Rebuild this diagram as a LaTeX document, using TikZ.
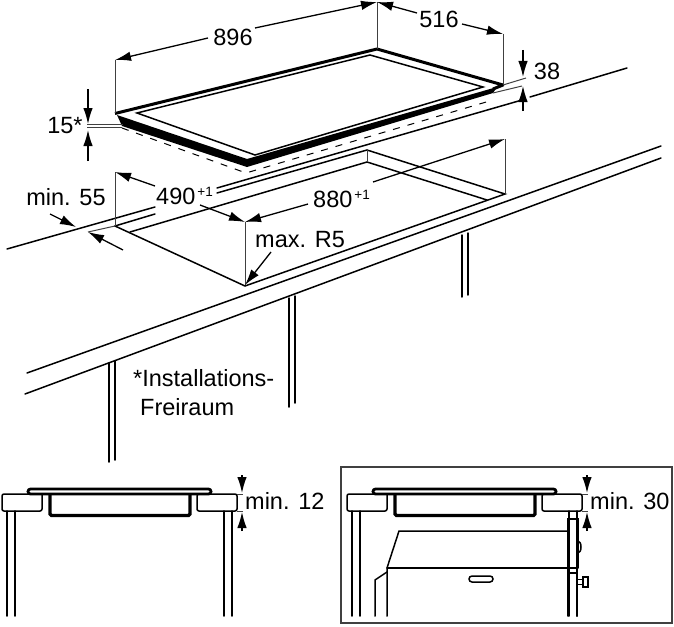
\documentclass[tikz,border=0pt]{standalone}
\usepackage{fontspec}
\setsansfont{Liberation Sans}
\usepackage{tikz}
\usetikzlibrary{arrows.meta}
\tikzset{>={Latex[length=16pt,width=9.5pt]}}
\tikzset{edgeline/.style={line width=1.5pt,line cap=round}}
\tikzset{dimline/.style={line width=1.3pt,->}}
\tikzset{helpline/.style={line width=1pt,black!75}}
\tikzset{heavyline/.style={line width=3pt,line join=round}}
\tikzset{dimtext/.style={inner sep=0pt}}
\newcommand{\plusone}{\hspace{2pt}\raisebox{8pt}{\fontsize{13.5}{14}\selectfont +1}}
\newcommand{\sectionview}[1]{%
	\draw[edgeline,rounded corners=2pt] (#1+42,494) -- (#1+2,494) -- (#1+2,511) -- (#1+42,511) -- (#1+42,494);
	\draw[edgeline,rounded corners=2pt] (#1+197,494) -- (#1+237,494) -- (#1+237,511) -- (#1+197,511) -- cycle;
	\draw[line width=2.8pt,rounded corners=2.5pt] (#1+28,489) rectangle (#1+211,494);
	\draw[line width=3.2pt,rounded corners=1.5pt] (#1+50,495) -- (#1+50,515.5) -- (#1+190,515.5) -- (#1+190,495);
	\draw[edgeline] (#1+7,511) -- (#1+7,616);
	\draw[edgeline] (#1+15,511) -- (#1+15,616);
	\draw[edgeline] (#1+224,511) -- (#1+224,616);
	\draw[edgeline] (#1+232,511) -- (#1+232,616);
	\draw[helpline] (#1+237,494) -- (#1+243,494);
	\draw[helpline] (#1+237,511) -- (#1+243,511);
	\draw[dimline] (#1+242,475) -- (#1+242,493);
	\draw[dimline] (#1+242,531) -- (#1+242,512);
}

\begin{document}
\begin{tikzpicture}[x=1pt,y=-1pt,font=\sffamily\fontsize{23.5}{26}\selectfont]
	\useasboundingbox (0,0) rectangle (674,626);
	% hob
	\fill (117,115) -- (122,126) -- (247,167) -- (493,93) -- (497,87) -- (247,159) -- cycle;
	\draw[heavyline] (115,113.5) -- (377,49) -- (503,85) -- (493,89);
	\draw[edgeline] (137,113) -- (370,55) -- (483,87) -- (255,155) -- cycle;
	\draw[line width=1pt,dash pattern=on 7pt off 8pt,rounded corners=3pt] (122,128) -- (246,173) -- (493,100);
	% worktop
	\draw[edgeline] (7,249) -- (155,207);
	\draw[edgeline] (217,188) -- (522,100);
	\draw[edgeline] (530,97) -- (627,68);
	\draw[helpline] (503,85) -- (526,78);
	\draw[helpline] (493,93) -- (522,86);
	\draw[edgeline] (27,373) -- (661,146);
	\draw[edgeline] (25,394) -- (661,158);
	% cut-out
	\draw[helpline] (88,232) -- (115,226);
	\draw[edgeline] (115,226) -- (155,214);
	\draw[edgeline] (217,193) -- (367,150) -- (505,194) -- (245,286) -- (115,226);
	\draw[edgeline] (130,232) -- (367,162) -- (487,200);
	\draw[helpline] (367,150) -- (367,162);
	% legs
	\foreach \legx/\legtop/\legend in {109/363/462,115/361/460,289/298/407,295/296/403,462/235/297,468/233/295}
		\draw[edgeline] (\legx,\legtop) -- (\legx,\legend);
	% extension lines
	\draw[helpline] (115,60) -- (115,113);
	\draw[helpline] (377,2) -- (377,49);
	\draw[helpline] (503,34) -- (503,85);
	\draw[helpline] (115,172) -- (115,226);
	\draw[helpline] (245,222) -- (245,285);
	\draw[helpline] (505,139) -- (505,194);
	\draw[helpline] (87,124) -- (123,124);
	\draw[helpline] (87,127.5) -- (122,127.5);
	% dimensions
	\draw[dimline] (208,38) -- (115,60);
	\draw[dimline] (255,28) -- (377,2);
	\draw[dimline] (417,13) -- (377,2);
	\draw[dimline] (462,24) -- (503,34);
	\draw[dimline] (523,50) -- (523,77);
	\draw[dimline] (523,111) -- (523,86);
	\draw[dimline] (88,89) -- (88,124);
	\draw[dimline] (88,161) -- (88,130);
	\draw[dimline] (50,214) -- (76,227);
	\draw[dimline] (123,250) -- (88,232);
	\draw[dimline] (155,186) -- (115,172);
	\draw[dimline] (200,205) -- (245,222);
	\draw[dimline] (308,204) -- (245,222);
	\draw[dimline] (373,182) -- (505,139);
	\draw[dimline] (271,252) -- (245,285);
	% labels
	\node[dimtext] (width) at (233,37) {896};
	\node[dimtext] (depth) at (439,19) {516};
	\node[dimtext] (thick) at (547,71) {38};
	\node[dimtext] (gap) at (65,126) {15*};
	\node[dimtext] (edge) at (66,197) {min. 55};
	\node[dimtext,anchor=west] (cutdepth) at (156,196) {490\plusone};
	\node[dimtext,anchor=west] (cutwidth) at (313,199) {880\plusone};
	\node[dimtext,anchor=west] (radius) at (255,240) {max. R5};
	\node[dimtext,anchor=west] (note) at (133,378) {*Installations-};
	\node[dimtext,anchor=west] (noteb) at (140,407) {Freiraum};
	% section without oven
	\sectionview{0}
	\node[dimtext,anchor=west] (mintop) at (245,501) {min. 12};
	% section with oven
	\draw[line width=1.4pt,black!75] (341,467) rectangle (672,623);
	\sectionview{345}
	\node[dimtext,anchor=west] (minoven) at (590,501) {min. 30};
	\draw[edgeline] (375,616) -- (375,580) -- (387,572);
	\draw[edgeline] (387,616) -- (387,568) -- (399,531) -- (568,531);
	\draw[edgeline] (387,568) -- (577,568);
	\draw[edgeline] (568,616) -- (568,519) -- (578,519) -- (578,568);
	\draw[edgeline] (568,573) -- (577,573) -- (577,616);
	\draw[edgeline,rounded corners=3pt] (469,576) rectangle (493,582);
	\draw[edgeline] (578,541) arc (-90:90:3 and 6);
	\draw[line width=1pt] (577,579) -- (583,579);
	\draw[line width=1pt] (577,584) -- (583,584);
	\draw[edgeline] (583,577) rectangle (588,587);
\end{tikzpicture}
\end{document}
